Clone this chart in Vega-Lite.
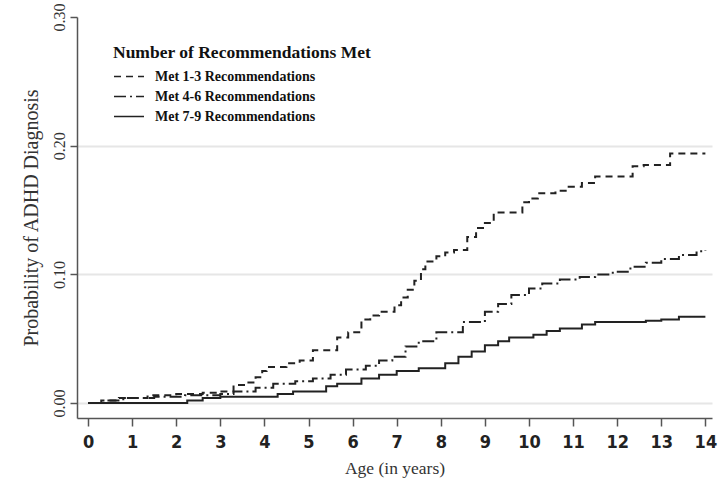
{
  "$schema": "https://vega.github.io/schema/vega-lite/v6.json",
  "autosize": "none",
  "width": 635,
  "height": 401,
  "padding": {"left": 77, "top": 17, "right": 7, "bottom": 70},
  "background": "white",
  "config": {"view": {"stroke": null}},
  "datasets": {
    "km": [
      {"group": "Met 1-3 Recommendations", "age": 0, "p": 0},
      {"group": "Met 1-3 Recommendations", "age": 0.3, "p": 0.002},
      {"group": "Met 1-3 Recommendations", "age": 0.7, "p": 0.004},
      {"group": "Met 1-3 Recommendations", "age": 1.35, "p": 0.006},
      {"group": "Met 1-3 Recommendations", "age": 2.0, "p": 0.007},
      {"group": "Met 1-3 Recommendations", "age": 2.6, "p": 0.008},
      {"group": "Met 1-3 Recommendations", "age": 3.0, "p": 0.009},
      {"group": "Met 1-3 Recommendations", "age": 3.3, "p": 0.014},
      {"group": "Met 1-3 Recommendations", "age": 3.6, "p": 0.016},
      {"group": "Met 1-3 Recommendations", "age": 3.8, "p": 0.02},
      {"group": "Met 1-3 Recommendations", "age": 3.95, "p": 0.025},
      {"group": "Met 1-3 Recommendations", "age": 4.05, "p": 0.028},
      {"group": "Met 1-3 Recommendations", "age": 4.5, "p": 0.031},
      {"group": "Met 1-3 Recommendations", "age": 4.8, "p": 0.033},
      {"group": "Met 1-3 Recommendations", "age": 5.1, "p": 0.041},
      {"group": "Met 1-3 Recommendations", "age": 5.65, "p": 0.051},
      {"group": "Met 1-3 Recommendations", "age": 5.9, "p": 0.055},
      {"group": "Met 1-3 Recommendations", "age": 6.2, "p": 0.065},
      {"group": "Met 1-3 Recommendations", "age": 6.4, "p": 0.068},
      {"group": "Met 1-3 Recommendations", "age": 6.6, "p": 0.071},
      {"group": "Met 1-3 Recommendations", "age": 6.95, "p": 0.076},
      {"group": "Met 1-3 Recommendations", "age": 7.1, "p": 0.082},
      {"group": "Met 1-3 Recommendations", "age": 7.25, "p": 0.088},
      {"group": "Met 1-3 Recommendations", "age": 7.4, "p": 0.095},
      {"group": "Met 1-3 Recommendations", "age": 7.55, "p": 0.104},
      {"group": "Met 1-3 Recommendations", "age": 7.65, "p": 0.11},
      {"group": "Met 1-3 Recommendations", "age": 7.9, "p": 0.114},
      {"group": "Met 1-3 Recommendations", "age": 8.1, "p": 0.117},
      {"group": "Met 1-3 Recommendations", "age": 8.3, "p": 0.119},
      {"group": "Met 1-3 Recommendations", "age": 8.6, "p": 0.129},
      {"group": "Met 1-3 Recommendations", "age": 8.8, "p": 0.136},
      {"group": "Met 1-3 Recommendations", "age": 9.0, "p": 0.14},
      {"group": "Met 1-3 Recommendations", "age": 9.2, "p": 0.148},
      {"group": "Met 1-3 Recommendations", "age": 9.85, "p": 0.156},
      {"group": "Met 1-3 Recommendations", "age": 10.0, "p": 0.159},
      {"group": "Met 1-3 Recommendations", "age": 10.2, "p": 0.163},
      {"group": "Met 1-3 Recommendations", "age": 10.6, "p": 0.165},
      {"group": "Met 1-3 Recommendations", "age": 10.9, "p": 0.168},
      {"group": "Met 1-3 Recommendations", "age": 11.2, "p": 0.171},
      {"group": "Met 1-3 Recommendations", "age": 11.5, "p": 0.176},
      {"group": "Met 1-3 Recommendations", "age": 12.35, "p": 0.184},
      {"group": "Met 1-3 Recommendations", "age": 12.6, "p": 0.185},
      {"group": "Met 1-3 Recommendations", "age": 13.2, "p": 0.194},
      {"group": "Met 1-3 Recommendations", "age": 14.0, "p": 0.194},
      {"group": "Met 4-6 Recommendations", "age": 0, "p": 0},
      {"group": "Met 4-6 Recommendations", "age": 0.4, "p": 0.002},
      {"group": "Met 4-6 Recommendations", "age": 0.8, "p": 0.004},
      {"group": "Met 4-6 Recommendations", "age": 1.5, "p": 0.005},
      {"group": "Met 4-6 Recommendations", "age": 2.2, "p": 0.006},
      {"group": "Met 4-6 Recommendations", "age": 3.0, "p": 0.007},
      {"group": "Met 4-6 Recommendations", "age": 3.3, "p": 0.009},
      {"group": "Met 4-6 Recommendations", "age": 3.8, "p": 0.012},
      {"group": "Met 4-6 Recommendations", "age": 4.2, "p": 0.015},
      {"group": "Met 4-6 Recommendations", "age": 4.7, "p": 0.017},
      {"group": "Met 4-6 Recommendations", "age": 5.1, "p": 0.019},
      {"group": "Met 4-6 Recommendations", "age": 5.5, "p": 0.022},
      {"group": "Met 4-6 Recommendations", "age": 5.85, "p": 0.026},
      {"group": "Met 4-6 Recommendations", "age": 6.3, "p": 0.029},
      {"group": "Met 4-6 Recommendations", "age": 6.6, "p": 0.033},
      {"group": "Met 4-6 Recommendations", "age": 6.9, "p": 0.036},
      {"group": "Met 4-6 Recommendations", "age": 7.2, "p": 0.044},
      {"group": "Met 4-6 Recommendations", "age": 7.5, "p": 0.048},
      {"group": "Met 4-6 Recommendations", "age": 7.9, "p": 0.055},
      {"group": "Met 4-6 Recommendations", "age": 8.5, "p": 0.063},
      {"group": "Met 4-6 Recommendations", "age": 9.0, "p": 0.071},
      {"group": "Met 4-6 Recommendations", "age": 9.3, "p": 0.077},
      {"group": "Met 4-6 Recommendations", "age": 9.6, "p": 0.084},
      {"group": "Met 4-6 Recommendations", "age": 10.0, "p": 0.089},
      {"group": "Met 4-6 Recommendations", "age": 10.3, "p": 0.093},
      {"group": "Met 4-6 Recommendations", "age": 10.7, "p": 0.096},
      {"group": "Met 4-6 Recommendations", "age": 11.15, "p": 0.098},
      {"group": "Met 4-6 Recommendations", "age": 11.5, "p": 0.1},
      {"group": "Met 4-6 Recommendations", "age": 11.9, "p": 0.102},
      {"group": "Met 4-6 Recommendations", "age": 12.3, "p": 0.106},
      {"group": "Met 4-6 Recommendations", "age": 12.65, "p": 0.109},
      {"group": "Met 4-6 Recommendations", "age": 13.0, "p": 0.112},
      {"group": "Met 4-6 Recommendations", "age": 13.4, "p": 0.115},
      {"group": "Met 4-6 Recommendations", "age": 13.8, "p": 0.118},
      {"group": "Met 4-6 Recommendations", "age": 14.0, "p": 0.119},
      {"group": "Met 7-9 Recommendations", "age": 0, "p": 0},
      {"group": "Met 7-9 Recommendations", "age": 2.25, "p": 0.002},
      {"group": "Met 7-9 Recommendations", "age": 2.6, "p": 0.004},
      {"group": "Met 7-9 Recommendations", "age": 3.0, "p": 0.005},
      {"group": "Met 7-9 Recommendations", "age": 4.3, "p": 0.007},
      {"group": "Met 7-9 Recommendations", "age": 4.65, "p": 0.009},
      {"group": "Met 7-9 Recommendations", "age": 5.4, "p": 0.013},
      {"group": "Met 7-9 Recommendations", "age": 5.65, "p": 0.015},
      {"group": "Met 7-9 Recommendations", "age": 6.2, "p": 0.019},
      {"group": "Met 7-9 Recommendations", "age": 6.6, "p": 0.022},
      {"group": "Met 7-9 Recommendations", "age": 7.0, "p": 0.025},
      {"group": "Met 7-9 Recommendations", "age": 7.5, "p": 0.027},
      {"group": "Met 7-9 Recommendations", "age": 8.1, "p": 0.031},
      {"group": "Met 7-9 Recommendations", "age": 8.4, "p": 0.036},
      {"group": "Met 7-9 Recommendations", "age": 8.7, "p": 0.04},
      {"group": "Met 7-9 Recommendations", "age": 9.0, "p": 0.045},
      {"group": "Met 7-9 Recommendations", "age": 9.3, "p": 0.048},
      {"group": "Met 7-9 Recommendations", "age": 9.55, "p": 0.051},
      {"group": "Met 7-9 Recommendations", "age": 10.1, "p": 0.053},
      {"group": "Met 7-9 Recommendations", "age": 10.4, "p": 0.056},
      {"group": "Met 7-9 Recommendations", "age": 10.7, "p": 0.058},
      {"group": "Met 7-9 Recommendations", "age": 11.2, "p": 0.061},
      {"group": "Met 7-9 Recommendations", "age": 11.5, "p": 0.063},
      {"group": "Met 7-9 Recommendations", "age": 12.65, "p": 0.064},
      {"group": "Met 7-9 Recommendations", "age": 13.0, "p": 0.065},
      {"group": "Met 7-9 Recommendations", "age": 13.4, "p": 0.067},
      {"group": "Met 7-9 Recommendations", "age": 14.0, "p": 0.067}
    ]
  },
  "data": {"name": "km"},
  "mark": {"type": "line", "interpolate": "step-after", "color": "#222222", "strokeWidth": 2},
  "encoding": {
    "x": {
      "field": "age", "type": "quantitative",
      "scale": {"domain": [-0.25, 14.15], "nice": false, "zero": false},
      "axis": {
        "title": "Age (in years)",
        "values": [0,1,2,3,4,5,6,7,8,9,10,11,12,13,14],
        "format": "d",
        "grid": false,
        "domainColor": "#555555", "domainWidth": 1.5,
        "tickColor": "#555555", "tickWidth": 1.5, "tickSize": 8,
        "labelFont": "DejaVu Sans Condensed", "labelFontSize": 18, "labelFontWeight": "bold",
        "labelColor": "#222222", "labelPadding": 7, "labelFlush": false,
        "titleFont": "Liberation Serif", "titleFontSize": 17.5, "titleFontWeight": "normal",
        "titleColor": "#333333", "titlePadding": 8
      }
    },
    "y": {
      "field": "p", "type": "quantitative",
      "scale": {"domain": [-0.0116, 0.30], "nice": false, "zero": false},
      "axis": {
        "title": "Probability of ADHD Diagnosis",
        "values": [0, 0.1, 0.2, 0.3],
        "format": ".2f",
        "grid": true,
        "gridColor": {"condition": {"test": "datum.value >= 0.29", "value": "transparent"}, "value": "#e6e6e6"},
        "gridWidth": 2,
        "domainColor": "#555555", "domainWidth": 1.5,
        "tickColor": "#555555", "tickWidth": 1.5, "tickSize": 7,
        "labelAngle": -90, "labelAlign": "center", "labelBaseline": "bottom",
        "labelFont": "Liberation Serif", "labelFontSize": 16, "labelColor": "#333333",
        "labelPadding": 3, "labelFlush": false,
        "titleFont": "Liberation Serif", "titleFontSize": 20, "titleFontWeight": "normal",
        "titleColor": "#333333", "titlePadding": 10
      }
    },
    "strokeDash": {
      "field": "group", "type": "nominal",
      "scale": {
        "domain": ["Met 1-3 Recommendations", "Met 4-6 Recommendations", "Met 7-9 Recommendations"],
        "range": [[7, 5], [12, 4, 2, 4], [1, 0]]
      },
      "legend": {
        "title": "Number of Recommendations Met",
        "orient": "none", "legendX": 36, "legendY": 27,
        "titleFont": "Liberation Serif", "titleFontSize": 17.5, "titleFontWeight": "bold",
        "titleColor": "#111111", "titlePadding": 6, "titleLimit": 400,
        "labelFont": "Liberation Serif", "labelFontSize": 14, "labelFontWeight": "bold",
        "labelColor": "#111111", "labelOffset": 10, "labelLimit": 400,
        "symbolType": "stroke", "symbolSize": 900, "symbolStrokeWidth": 1.3,
        "symbolStrokeColor": "#222222", "clipHeight": 18, "rowPadding": 2
      }
    }
  }
}
